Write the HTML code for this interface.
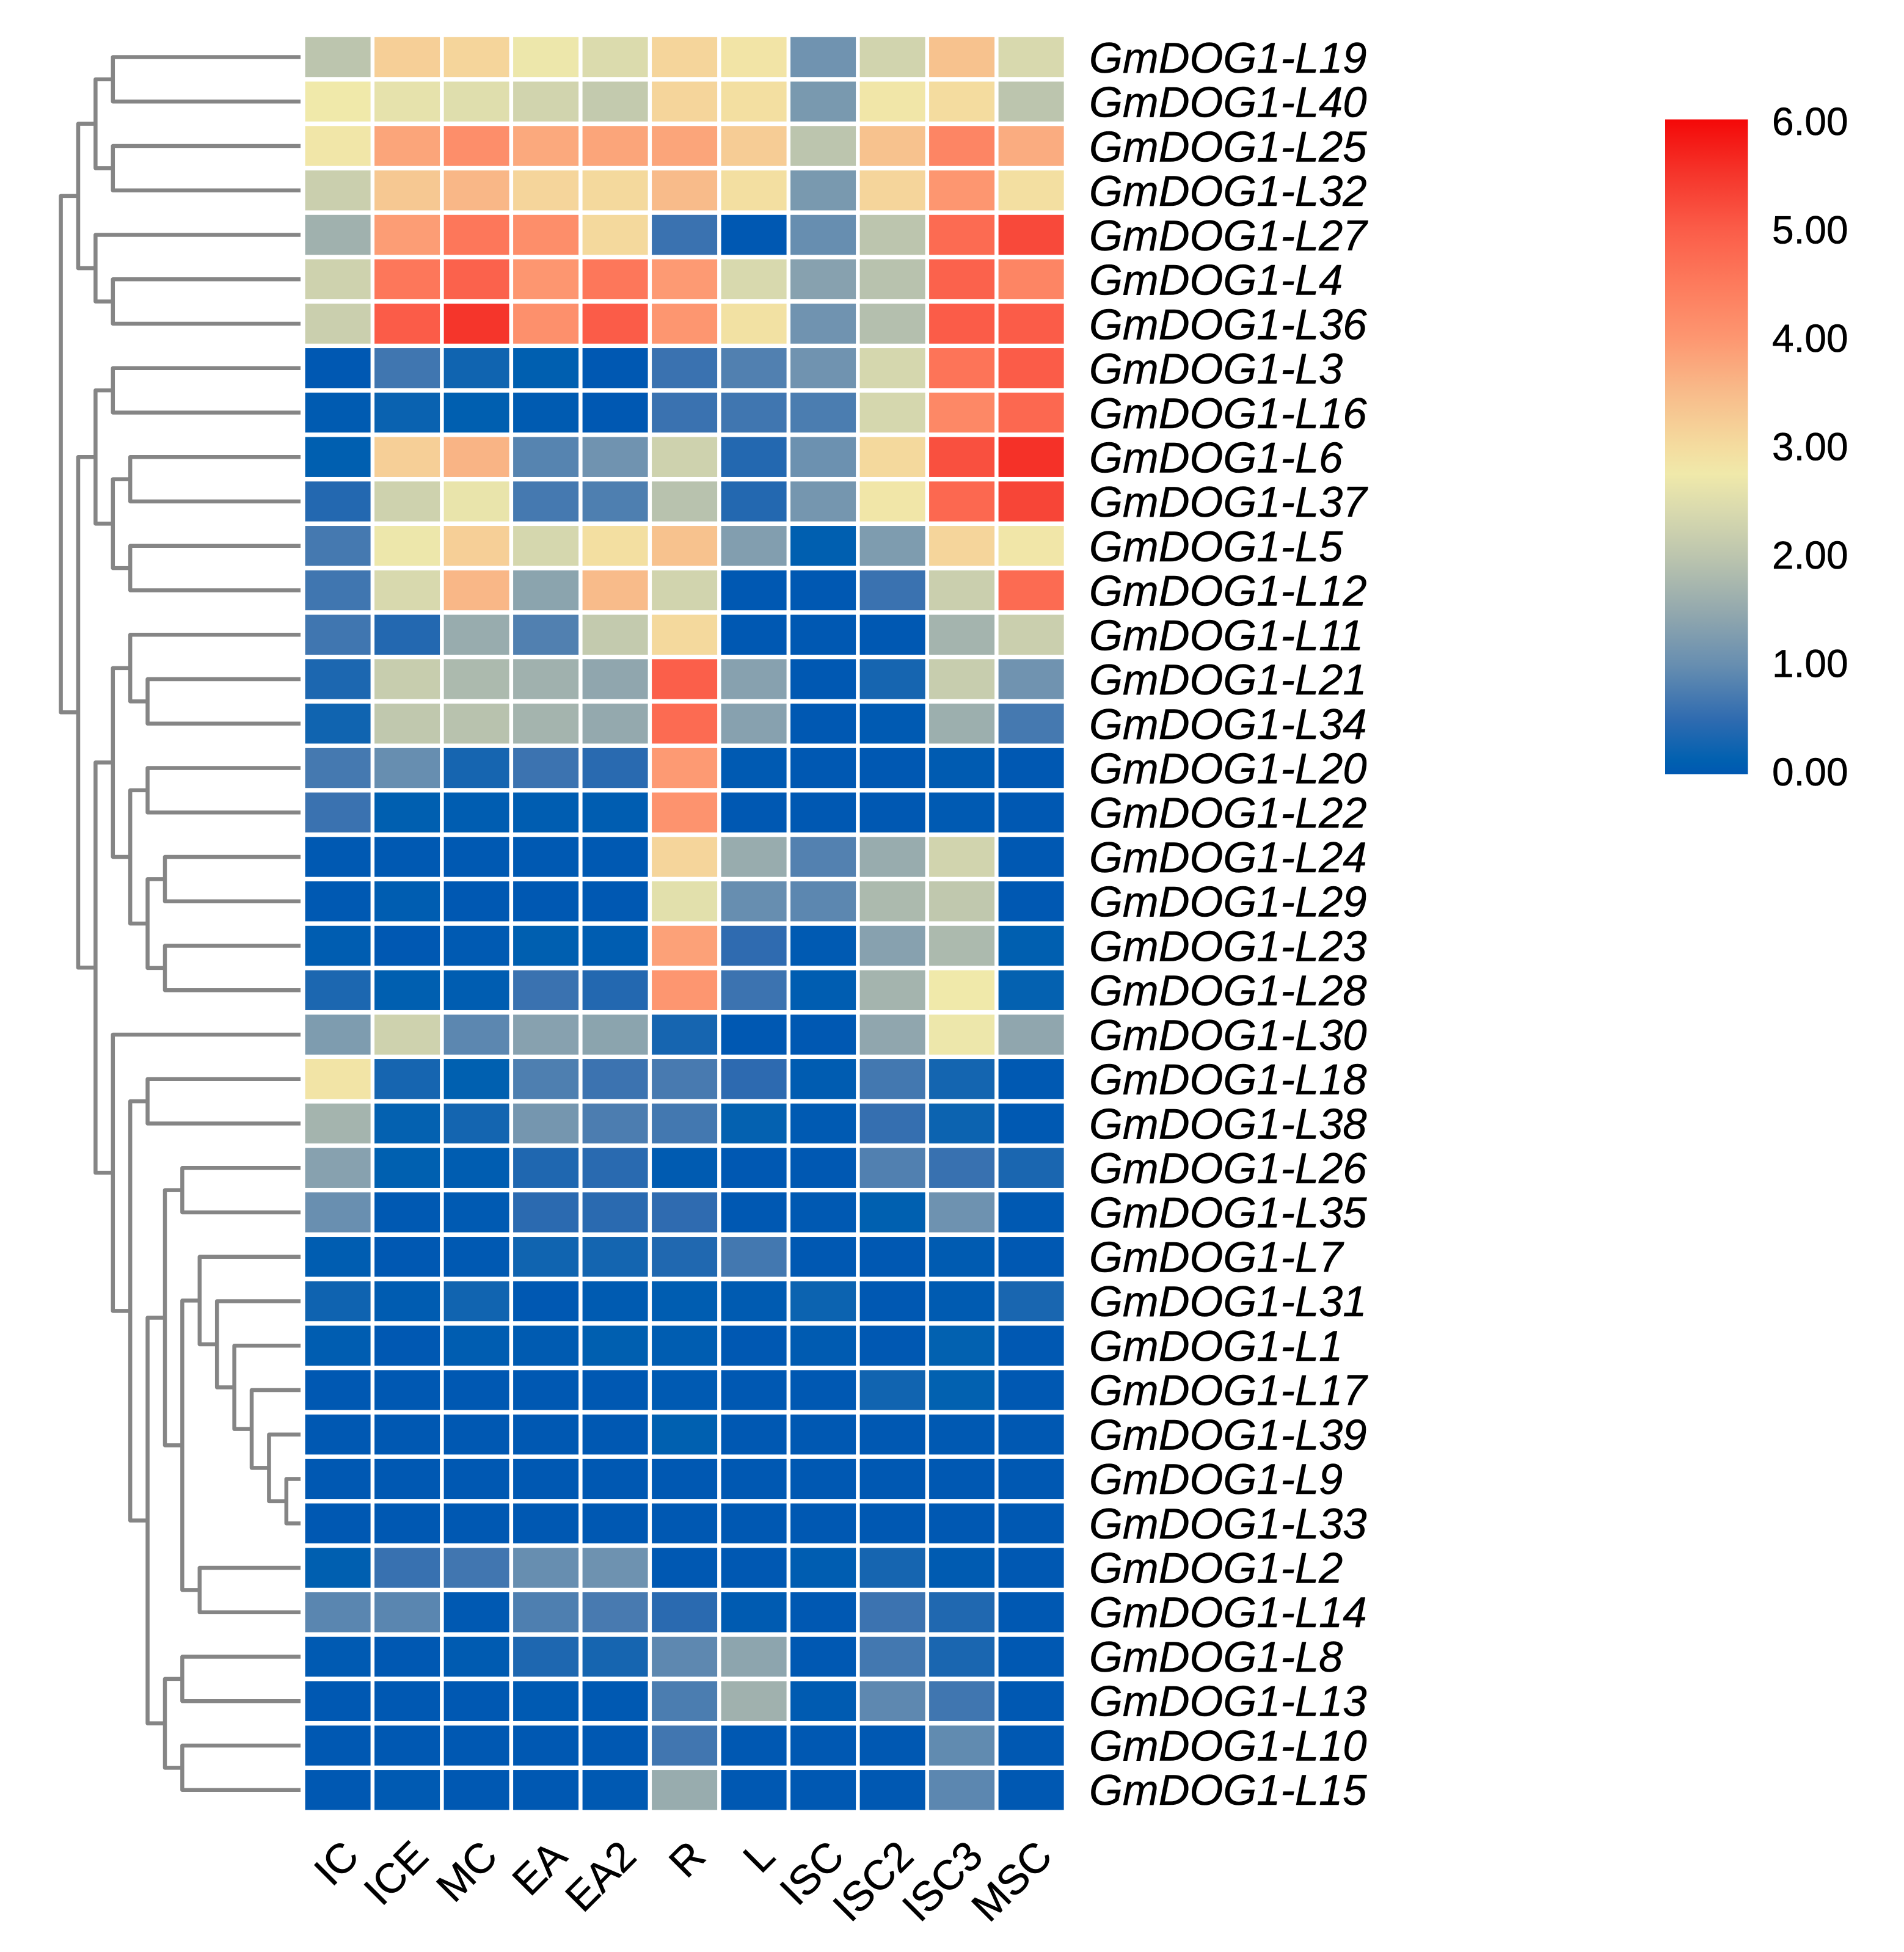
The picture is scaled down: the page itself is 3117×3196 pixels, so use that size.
<!DOCTYPE html>
<html lang="en">
<head>
<meta charset="utf-8">
<title>GmDOG1-L expression heatmap</title>
<style>
html,body{margin:0;padding:0;background:#fff;}
svg{display:block;}
text{font-family:"Liberation Sans",Arial,sans-serif;fill:#000;stroke:#000;stroke-width:0.6;}
</style>
</head>
<body>
<svg id="chart" xmlns="http://www.w3.org/2000/svg" width="3117" height="3196" viewBox="0 0 3117 3196">
  <rect x="0" y="0" width="3117" height="3196" fill="#ffffff"/>
  <defs>
    <linearGradient id="scaleGradient" x1="0" y1="1" x2="0" y2="0"></linearGradient>
  </defs>
  <g id="dendrogram" fill="none" stroke="#858585" stroke-width="6.5" stroke-linejoin="round"></g>
  <g id="cells"></g>
  <g id="rowLabels"></g>
  <g id="colLabels"></g>
  <g id="legend"></g>
</svg>
<script>
const sampleLabels = ["IC","ICE","MC","EA","EA2","R","L","ISC","ISC2","ISC3","MSC"];

const geneLabels = ["GmDOG1-L19","GmDOG1-L40","GmDOG1-L25","GmDOG1-L32","GmDOG1-L27","GmDOG1-L4","GmDOG1-L36","GmDOG1-L3","GmDOG1-L16","GmDOG1-L6","GmDOG1-L37","GmDOG1-L5","GmDOG1-L12","GmDOG1-L11","GmDOG1-L21","GmDOG1-L34","GmDOG1-L20","GmDOG1-L22","GmDOG1-L24","GmDOG1-L29","GmDOG1-L23","GmDOG1-L28","GmDOG1-L30","GmDOG1-L18","GmDOG1-L38","GmDOG1-L26","GmDOG1-L35","GmDOG1-L7","GmDOG1-L31","GmDOG1-L1","GmDOG1-L17","GmDOG1-L39","GmDOG1-L9","GmDOG1-L33","GmDOG1-L2","GmDOG1-L14","GmDOG1-L8","GmDOG1-L13","GmDOG1-L10","GmDOG1-L15"];

const expressionValues = [
[2.0,3.2,3.1,2.7,2.45,3.1,2.85,1.1,2.3,3.4,2.4],
[2.75,2.6,2.5,2.3,2.1,3.1,2.95,1.2,2.8,3.0,2.0],
[2.8,3.8,4.15,3.75,3.8,3.8,3.25,2.0,3.4,4.3,3.7],
[2.2,3.3,3.55,3.1,3.05,3.5,2.95,1.2,3.1,4.0,2.95],
[1.65,3.9,4.55,4.15,3.05,0.6,0,1.0,2.0,4.75,5.25],
[2.25,4.55,4.9,4.0,4.55,3.95,2.4,1.35,1.95,4.9,4.3],
[2.2,5.0,5.5,4.1,5.0,4.0,2.9,1.1,1.9,5.0,5.0],
[0,0.65,0.25,0.1,0,0.6,0.8,1.1,2.35,4.6,5.0],
[0.05,0.2,0.1,0.05,0,0.6,0.65,0.75,2.35,4.25,4.8],
[0.1,3.2,3.6,0.85,1.1,2.25,0.4,1.05,3.05,5.15,5.55],
[0.4,2.25,2.65,0.7,0.78,1.95,0.4,1.15,2.8,4.8,5.3],
[0.7,2.7,3.2,2.35,2.95,3.4,1.3,0.1,1.25,3.1,2.8],
[0.65,2.4,3.55,1.4,3.5,2.3,0,0,0.6,2.2,4.75],
[0.65,0.4,1.55,0.8,2.1,3.05,0,0,0,1.7,2.2],
[0.35,2.15,1.8,1.65,1.45,4.95,1.35,0,0.3,2.15,1.1],
[0.25,2.05,1.95,1.7,1.5,4.75,1.35,0,0.03,1.6,0.7],
[0.7,1.0,0.3,0.62,0.45,3.95,0.03,0,0,0.05,0],
[0.6,0.1,0.08,0.08,0.08,4.05,0,0,0,0.03,0],
[0.02,0.02,0.02,0.02,0.02,3.1,1.55,0.82,1.55,2.3,0],
[0.02,0.08,0,0,0,2.55,1.0,0.9,1.8,2.05,0],
[0.08,0,0.03,0.1,0.08,3.85,0.5,0.03,1.35,1.8,0.1],
[0.35,0.1,0.07,0.6,0.4,4.0,0.62,0.08,1.7,2.75,0.15],
[1.25,2.25,0.9,1.35,1.4,0.3,0,0,1.45,2.7,1.45],
[2.85,0.3,0.12,0.78,0.62,0.72,0.48,0.06,0.68,0.28,0.02],
[1.7,0.15,0.28,1.15,0.76,0.68,0.15,0.03,0.55,0.22,0.02],
[1.35,0.12,0.08,0.37,0.45,0.04,0,0,0.8,0.58,0.33],
[1.02,0.01,0.03,0.47,0.46,0.5,0,0.02,0.12,1.08,0.02],
[0.08,0,0.02,0.25,0.28,0.38,0.68,0,0,0.05,0],
[0.24,0.06,0.26,0,0.05,0.07,0.04,0.22,0,0.05,0.32],
[0.08,0,0.08,0.05,0.1,0.08,0,0.04,0,0.14,0],
[0,0,0,0,0,0.03,0,0,0.26,0.14,0],
[0,0,0,0,0,0.12,0,0,0,0.02,0],
[0,0,0,0,0,0,0,0,0,0,0],
[0,0,0,0,0,0,0,0,0,0,0],
[0.1,0.58,0.66,1.0,1.08,0,0,0.08,0.3,0.05,0],
[0.88,0.88,0.02,0.78,0.72,0.46,0.05,0,0.62,0.38,0],
[0.03,0,0.05,0.36,0.3,0.92,1.42,0,0.68,0.33,0],
[0,0,0,0.03,0.01,0.75,1.65,0.04,0.92,0.65,0],
[0,0,0,0,0,0.66,0,0,0,0.95,0],
[0,0.03,0,0,0.01,1.55,0,0,0,0.9,0]
];

const legendTicks = [0,1,2,3,4,5,6];

const scaleValues = [0,0.12,0.5,1,1.5,2,2.4,2.75,3,3.5,4,4.5,5,5.5,6];
const scaleColors = ["#0058b2","#0060b0","#2f6bb0","#678eb0","#94a9ae","#bcc5ae","#d8d9ae","#f0e9aa","#f4dc9f","#f8bb8a","#fd9670","#fd7a5c","#fb5c48","#f5352b","#f40808"];

/* Dendrogram: [merge depth, upper child, lower child]; integers are leaf row indices */
const dendrogramTree =
[0,
  [1,
    [2,[3,0,1],[3,2,3]],
    [2,4,[3,5,6]]],
  [1,
    [2,[3,7,8],[3,[4,9,10],[4,11,12]]],
    [2,
      [3,
        [4,13,[5,14,15]],
        [4,[5,16,17],[5,[6,18,19],[6,20,21]]]],
      [3,22,
        [4,[5,23,24],
          [5,
            [6,[7,25,26],
              [7,[8,27,[9,28,[10,29,[11,30,[12,31,[13,32,33]]]]]],[8,34,35]]],
            [6,[7,36,37],[7,38,39]]]]]]]];

const NS = "http://www.w3.org/2000/svg";

function colX(i){ return 499.6 + 113.5 * i; }
function rowY(i){ return 60.8 + 72.75 * i; }
const CELL_W = 107;
const CELL_H = 65.4;
function rowCenter(i){ return rowY(i) + CELL_H / 2; }
function depthX(d){ return 99.6 + 28.4 * d; }
const LEAF_END_X = 492;
function legendY(v){ return 1267.5 - (v / 6) * 1072; }
function legendTickY(v){ return 1286 - (v / 6) * 1065; }

function hexToRgb(h){
  return [parseInt(h.slice(1,3),16),parseInt(h.slice(3,5),16),parseInt(h.slice(5,7),16)];
}
function colorFor(v){
  const c = Math.max(scaleValues[0], Math.min(scaleValues[scaleValues.length-1], v));
  let k = 0;
  while (k < scaleValues.length - 2 && c > scaleValues[k+1]) k++;
  const t = (c - scaleValues[k]) / (scaleValues[k+1] - scaleValues[k]);
  const a = hexToRgb(scaleColors[k]);
  const b = hexToRgb(scaleColors[k+1]);
  return "rgb(" + a.map(function(x,n){ return Math.round(x + (b[n]-x)*t); }).join(",") + ")";
}

/* heat cells */
const cellsG = document.getElementById("cells");
expressionValues.forEach(function(row, r){
  row.forEach(function(val, c){
    const el = document.createElementNS(NS, "rect");
    el.setAttribute("x", colX(c));
    el.setAttribute("y", rowY(r));
    el.setAttribute("width", CELL_W);
    el.setAttribute("height", CELL_H);
    el.setAttribute("fill", colorFor(val));
    
    
    cellsG.appendChild(el);
  });
});

/* row labels */
const rowG = document.getElementById("rowLabels");
geneLabels.forEach(function(name, r){
  const el = document.createElementNS(NS, "text");
  el.setAttribute("x", 1783);
  el.setAttribute("y", 119 + 72.72 * r);
  el.setAttribute("font-size", "70.5");
  el.setAttribute("font-style", "italic");
  el.textContent = name;
  
  
  rowG.appendChild(el);
});

/* column labels */
const colG = document.getElementById("colLabels");
sampleLabels.forEach(function(name, c){
  const px = colX(c) + CELL_W / 2 + 38;
  const py = 3043;
  const el = document.createElementNS(NS, "text");
  el.setAttribute("x", px);
  el.setAttribute("y", py);
  el.setAttribute("font-size", "68");
  el.setAttribute("text-anchor", "end");
  el.setAttribute("transform", "rotate(-45 " + px + " " + py + ")");
  el.textContent = name;
  
  
  colG.appendChild(el);
});

/* dendrogram */
const dendG = document.getElementById("dendrogram");
function drawNode(node){
  if (typeof node === "number") {
    return { x: LEAF_END_X, y: rowCenter(node) };
  }
  const a = drawNode(node[1]);
  const b = drawNode(node[2]);
  const x = depthX(node[0]);
  const el = document.createElementNS(NS, "path");
  el.setAttribute("d", "M" + a.x + " " + a.y + "H" + x + "V" + b.y + "H" + b.x);
  
  
  dendG.appendChild(el);
  return { x: x, y: (a.y + b.y) / 2 };
}
drawNode(dendrogramTree);

/* legend */
const grad = document.getElementById("scaleGradient");
scaleValues.forEach(function(v, i){
  const s = document.createElementNS(NS, "stop");
  s.setAttribute("offset", (v / 6 * 100) + "%");
  s.setAttribute("stop-color", scaleColors[i]);
  grad.appendChild(s);
});
const legendG = document.getElementById("legend");
const bar = document.createElementNS(NS, "rect");
bar.setAttribute("x", 2726);
bar.setAttribute("y", legendY(6));
bar.setAttribute("width", 135.5);
bar.setAttribute("height", legendY(0) - legendY(6));
bar.setAttribute("fill", "url(#scaleGradient)");


legendG.appendChild(bar);
legendTicks.forEach(function(v){
  const el = document.createElementNS(NS, "text");
  el.setAttribute("x", 2901);
  el.setAttribute("y", legendTickY(v));
  el.setAttribute("font-size", "64");
  el.textContent = v.toFixed(2);
  
  
  legendG.appendChild(el);
});
</script>
</body>
</html>
